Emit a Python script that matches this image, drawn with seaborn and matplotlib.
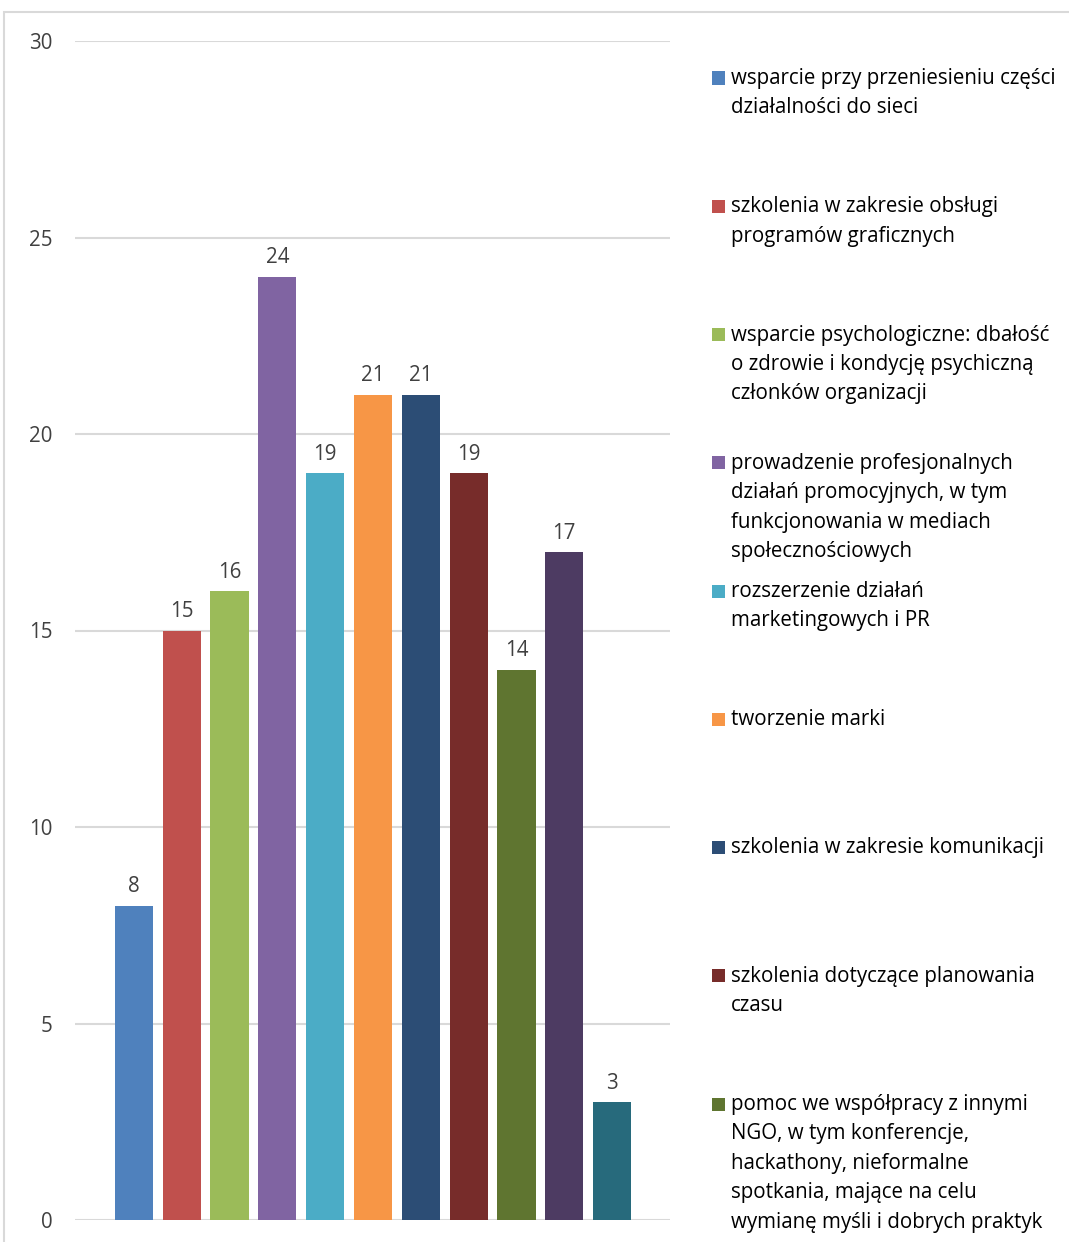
import matplotlib
matplotlib.use("Agg")
import matplotlib.pyplot as plt
import seaborn as sns
import pandas as pd
from matplotlib.patches import Rectangle

# ------------------------------------------------------------------
# data
# ------------------------------------------------------------------
categories = [
    "wsparcie przy przeniesieniu części\ndziałalności do sieci",
    "szkolenia w zakresie obsługi\nprogramów graficznych",
    "wsparcie psychologiczne: dbałość\no zdrowie i kondycję psychiczną\nczłonków organizacji",
    "prowadzenie profesjonalnych\ndziałań promocyjnych, w tym\nfunkcjonowania w mediach\nspołecznościowych",
    "rozszerzenie działań\nmarketingowych i PR",
    "tworzenie marki",
    "szkolenia w zakresie komunikacji",
    "szkolenia dotyczące planowania\nczasu",
    "pomoc we współpracy z innymi\nNGO, w tym konferencje,\nhackathony, nieformalne\nspotkania, mające na celu\nwymianę myśli i dobrych praktyk",
    "kategoria 10",
    "kategoria 11",
]
values = [8, 15, 16, 24, 19, 21, 21, 19, 14, 17, 3]
colors = ["#4F81BD", "#C0504D", "#9BBB59", "#8064A2", "#4BACC6", "#F79646",
          "#2C4D75", "#772C2A", "#5F7530", "#4D3B62", "#276A7C"]
n_legend = 9  # only first nine entries fit in the legend area
y_ticks = [0, 5, 10, 15, 20, 25, 30]

sns.set_style("white")
plt.rcParams["font.family"] = ["Open Sans", "DejaVu Sans"]
TXT = "#404040"
FS = 14.8

W, H = 1069, 1242
fig = plt.figure(figsize=(W / 100, H / 100), dpi=100)

# outer chart border
fig.patches.append(Rectangle((4 / W, -0.1), 1.2, 1.1 - 12 / H,
                             transform=fig.transFigure, fill=False,
                             edgecolor="#d9d9d9", linewidth=1.5))

ax = fig.add_axes([75 / W, (H - 1220) / H, (670 - 75) / W, (1220 - 41) / H])

df = pd.DataFrame({"kat": categories, "val": values})
sns.barplot(data=df, x="kat", y="val", hue="kat", palette=colors,
            legend=False, width=0.8, saturation=1, linewidth=0, ax=ax)

for cont in ax.containers:
    ax.bar_label(cont, padding=6, fontsize=FS, color=TXT)

ax.set_ylim(0, 30)
ax.set_xlim(-1.23, len(values) - 1 + 1.21)
ax.set_yticks(y_ticks)
ax.set_yticklabels([str(t) for t in y_ticks], fontsize=FS, color=TXT)
ax.set_xticks([])
ax.set_xlabel("")
ax.set_ylabel("")
ax.tick_params(axis="y", length=0, pad=16)
ax.yaxis.grid(True, color="#d9d9d9", linewidth=1.5)
ax.set_axisbelow(True)
for s in ax.spines.values():
    s.set_visible(False)

# legend drawn as fixed slots like the original
first_line_y = 78
slot = 128.25
for i in range(n_legend):
    yc = first_line_y + i * slot
    fig.patches.append(Rectangle((712 / W, (H - yc - 6.5) / H), 13 / W, 13 / H,
                                 transform=fig.transFigure,
                                 facecolor=colors[i], edgecolor="none"))
    fig.text(731 / W, (H - yc + 10) / H, categories[i], fontsize=FS,
             color="#000000", va="top", ha="left", linespacing=1.53)

fig.savefig("out.png", dpi=100)
